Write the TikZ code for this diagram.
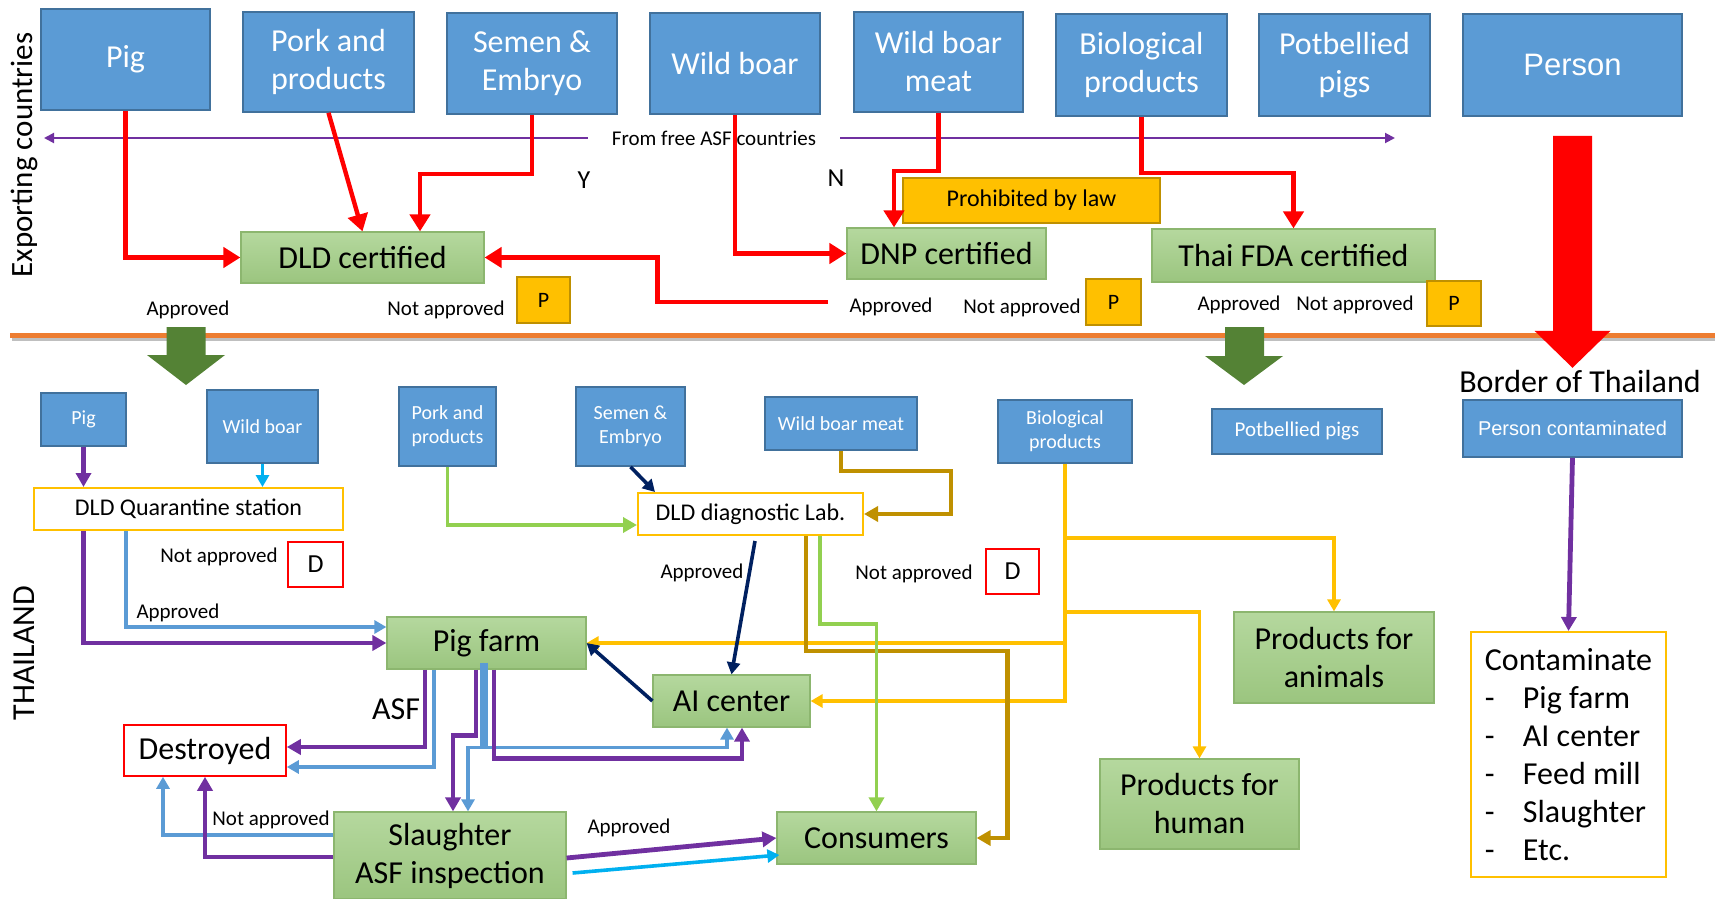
\documentclass[tikz,border=0pt]{standalone}
\usepackage{fontspec}
\setmainfont{Carlito}
\newfontfamily\arialfont{Liberation Sans}
\usepackage{tikz}
\usetikzlibrary{positioning}
\usetikzlibrary{calc,arrows.meta}
\usepackage{color}

\definecolor{boxblue}{HTML}{5B9BD5}
\definecolor{boxblueline}{HTML}{41719C}
\definecolor{greentop}{HTML}{B5D89E}
\definecolor{greenbot}{HTML}{9BC57F}
\definecolor{greenline}{HTML}{8CB66F}
\definecolor{amber}{HTML}{FFC000}
\definecolor{amberline}{HTML}{BF9000}
\definecolor{asfred}{HTML}{FF0000}
\definecolor{lilac}{HTML}{7030A0}
\definecolor{skyblue}{HTML}{5B9BD5}
\definecolor{cyanline}{HTML}{00B0F0}
\definecolor{navyline}{HTML}{002060}
\definecolor{goldline}{HTML}{BF9000}
\definecolor{limeline}{HTML}{92D050}
\definecolor{borderline}{HTML}{ED7D31}
\definecolor{darkgreen}{HTML}{548235}

\begin{document}
\begin{tikzpicture}[x=0.5pt, y=-0.5pt,
bignode/.style={rectangle, draw=boxblueline, fill=boxblue, line width=0.8pt, text=white, inner sep=0pt, align=center, font=\fontsize{16}{19}\selectfont},
smallnode/.style={rectangle, draw=boxblueline, fill=boxblue, line width=0.8pt, text=white, inner sep=0pt, align=center, font=\fontsize{10}{12}\selectfont},
greennode/.style={rectangle, draw=greenline, top color=greentop, bottom color=greenbot, line width=0.6pt, inner sep=0pt, align=center, font=\fontsize{16}{19}\selectfont},
ambernode/.style={rectangle, draw=amberline, fill=amber, line width=0.6pt, inner sep=0pt, font=\fontsize{11}{13}\selectfont},
amberbox/.style={rectangle, draw=amber, fill=white, line width=1pt, inner sep=0pt, font=\fontsize{12}{14}\selectfont},
redbox/.style={rectangle, draw=asfred, fill=white, line width=0.8pt, inner sep=0pt, font=\fontsize{13}{15}\selectfont},
labeltext/.style={inner sep=0pt, font=\fontsize{10.5}{12}\selectfont},
bigtext/.style={inner sep=0pt, font=\fontsize{16}{19}\selectfont},
redarrow/.style={draw=asfred, line width=2.2pt, -{Triangle[length=8.5pt,width=10pt]}},
thinarrow/.style={draw=lilac, line width=1pt, -{Triangle[length=5pt,width=5pt]}},
purplearrow/.style={draw=lilac, line width=2.4pt, -{Triangle[length=7pt,width=7.5pt]}},
bluearrow/.style={draw=skyblue, line width=1.8pt, -{Triangle[length=6pt,width=6.5pt]}},
cyanarrow/.style={draw=cyanline, line width=1.8pt, -{Triangle[length=6pt,width=6.5pt]}},
navyarrow/.style={draw=navyline, line width=1.8pt, -{Triangle[length=6pt,width=6.5pt]}},
goldarrow/.style={draw=goldline, line width=2.2pt, -{Triangle[length=7pt,width=7.5pt]}},
limearrow/.style={draw=limeline, line width=1.8pt, -{Triangle[length=7pt,width=7.5pt]}},
yellowarrow/.style={draw=amber, line width=1.8pt, -{Triangle[length=6pt,width=6.5pt]}},
]
\useasboundingbox (0,0) rectangle (1715,899);

%Border line
\draw[black!25, line width=1.5pt] (12,339.5) -- (1715,339.5);
\draw[borderline, line width=2.5pt] (10,335.5) -- (1715,335.5);

%Nodes exporting countries
\node[bignode, minimum width=84.5pt, minimum height=50.5pt] (tpig)    at (125.5,59.5) {Pig};
\node[bignode, minimum width=85.5pt, minimum height=50pt]   (tpork)   at (328.5,62)   {Pork and\\products};
\node[bignode, minimum width=85pt,   minimum height=50.5pt] (tsemen)  at (532,63.5)   {Semen \&\\Embryo};
\node[bignode, minimum width=85pt,   minimum height=50.5pt] (twild)   at (735,63.5)   {Wild boar};
\node[bignode, minimum width=84.5pt, minimum height=50pt]   (tmeat)   at (938.5,62)   {Wild boar\\meat};
\node[bignode, minimum width=85.5pt, minimum height=51pt]   (tbio)    at (1141.5,65)  {Biological\\products};
\node[bignode, minimum width=85.5pt, minimum height=51pt]   (tpot)    at (1344.5,65)  {Potbellied\\pigs};
\node[bignode, minimum width=109.5pt, minimum height=51pt, font=\arialfont\fontsize{15.5}{18}\selectfont] (tperson) at (1572.5,65) {Person};

\node[greennode, minimum width=121.5pt, minimum height=25.5pt] (dldc) at (362.5,257.5) {DLD certified};
\node[greennode, minimum width=99.5pt,  minimum height=25.5pt] (dnpc) at (946.5,253.5) {DNP certified};
\node[greennode, minimum width=141.5pt, minimum height=26.5pt] (fdac) at (1293.5,255.5) {Thai FDA certified};
\node[ambernode, minimum width=128.5pt, minimum height=22.5pt, font=\fontsize{12}{14}\selectfont] (prohib) at (1031.5,200.5) {Prohibited by law};
\node[ambernode, minimum width=26.5pt, minimum height=23pt]   (pa) at (543.5,300)  {P};
\node[ambernode, minimum width=27.5pt, minimum height=23pt]   (pb) at (1113.5,302) {P};
\node[ambernode, minimum width=27pt,   minimum height=22.5pt] (pc) at (1454,303.5) {P};

%Text exporting countries
\node[labeltext] (apra) at (188,310)  {Approved};
\node[labeltext] (napa) at (446,310)  {Not approved};
\node[labeltext] (aprb) at (891,307)  {Approved};
\node[labeltext] (napb) at (1022,308) {Not approved};
\node[labeltext] (aprc) at (1239,305) {Approved};
\node[labeltext] (napc) at (1355,305) {Not approved};
\node[labeltext, inner xsep=12pt] (freeasf) at (714,138) {From free ASF countries};
\node[font=\fontsize{13}{15}\selectfont] (yes) at (584,180) {Y};
\node[font=\fontsize{13}{15}\selectfont] (no)  at (836,178) {N};
\node[rotate=90, font=\fontsize{15.5}{18}\selectfont] (exporting) at (24,155) {Exporting countries};
\node[rotate=90, font=\fontsize{16}{18}\selectfont]   (thailand)  at (24,653) {THAILAND};
\node[bigtext] (border) at (1580,382) {Border of Thailand};
\coordinate (asfleft)  at (44,138);
\coordinate (asfright) at (1395,138);

%Lines exporting countries
\draw[thinarrow] (freeasf.west) -- (asfleft);
\draw[thinarrow] (freeasf.east) -- (asfright);
\draw[redarrow] (tpig.south) |- (dldc.west);
\draw[redarrow] (tpork.south) -- (dldc.north);
\draw[redarrow] (tsemen.south) -- ++(0,59) -| ($(dldc.north)+(57.5,0)$);
\draw[redarrow] (twild.south) |- (dnpc.west);
\draw[redarrow] (tmeat.south) -- ++(0,58) -| ($(dnpc.north)+(-52.5,0)$);
\draw[redarrow] (tbio.south) -- ++(0,56) -| (fdac.north);
\draw[redarrow] ($(aprb.west)+(-21,-5)$) -| ($(dldc.east)+(173,0)$) -- (dldc.east);

%Block arrows
\fill[asfred] ($(tperson.south)+(-19.5,19)$) -- ++(39,0) -- ++(0,195) -- ++(18.5,0)
  -- ($(tperson.south)+(0,251)$) -- ($(tperson.south)+(-38,214)$) -- ++(18.5,0) -- cycle;
\fill[darkgreen] (166.5,327) -- (205.5,327) -- (205.5,355) -- (225,355) -- (186,385) -- (147,355) -- (166.5,355) -- cycle;
\fill[darkgreen] (1225,327) -- (1264,327) -- (1264,356) -- (1283,356) -- (1244,385) -- (1205,356) -- (1225,356) -- cycle;

%Nodes Thailand
\node[smallnode, minimum width=42.5pt, minimum height=26.5pt] (bpig)   at (83.5,419.5)  {Pig};
\node[smallnode, minimum width=55.5pt, minimum height=36.5pt] (bwild)  at (262.5,426.5) {Wild boar};
\node[smallnode, minimum width=48.5pt, minimum height=39.5pt] (bpork)  at (447.5,426.5) {Pork and\\products};
\node[smallnode, minimum width=54.5pt, minimum height=39.5pt] (bsemen) at (630.5,426.5) {Semen \&\\Embryo};
\node[smallnode, minimum width=76pt,   minimum height=26.5pt] (bmeat)  at (841,423.5)   {Wild boar meat};
\node[smallnode, minimum width=67pt,   minimum height=31.5pt] (bbio)   at (1065,431.5)  {Biological\\products};
\node[smallnode, minimum width=85pt,   minimum height=22.5pt, font=\fontsize{10.5}{12}\selectfont] (bpot) at (1297,431.5) {Potbellied pigs};
\node[smallnode, minimum width=109.5pt, minimum height=28.5pt, font=\arialfont\fontsize{10}{12}\selectfont] (bperson) at (1572.5,428.5) {Person contaminated};

\node[amberbox, minimum width=154.5pt, minimum height=21pt] (quar) at (188.5,509) {DLD Quarantine station};
\node[amberbox, minimum width=112.5pt, minimum height=21pt] (diag) at (750.5,514) {DLD diagnostic Lab.};
\node[redbox, minimum width=27.5pt, minimum height=22.5pt] (da) at (315.5,564.5) {D};
\node[redbox, minimum width=26.5pt, minimum height=22.5pt] (db) at (1012.5,571.5) {D};
\node[redbox, minimum width=81pt, minimum height=25.5pt, font=\fontsize{16}{19}\selectfont] (destroyed) at (205,750.5) {Destroyed};
\node[amberbox, minimum width=97.5pt, minimum height=122.5pt, align=left, font=\fontsize{16}{19}\selectfont] (contam) at (1568.5,754.5)
  {Contaminate\\
   \makebox[19pt][l]{-}Pig farm\\
   \makebox[19pt][l]{-}AI center\\
   \makebox[19pt][l]{-}Feed mill\\
   \makebox[19pt][l]{-}Slaughter\\
   \makebox[19pt][l]{-}Etc.};

\node[greennode, minimum width=99.5pt, minimum height=26pt]   (farm)    at (486.5,643)  {Pig farm};
\node[greennode, minimum width=78.5pt, minimum height=26pt]   (aic)     at (731.5,701)  {AI center};
\node[greennode, minimum width=116pt,  minimum height=43.5pt] (slaught) at (450,855.5)  {Slaughter\\ASF inspection};
\node[greennode, minimum width=99.5pt, minimum height=26pt]   (cons)    at (876.5,838)  {Consumers};
\node[greennode, minimum width=100pt,  minimum height=45.5pt] (panim)   at (1334,657.5) {Products for\\animals};
\node[greennode, minimum width=99.5pt, minimum height=45pt]   (phum)    at (1199.5,804) {Products for\\human};

%Text Thailand
\node[labeltext] (napd) at (219,557) {Not approved};
\node[labeltext] (apre) at (178,613) {Approved};
\node[bigtext]   (asf)  at (396,709) {ASF};
\node[labeltext] (nape) at (271,820) {Not approved};
\node[labeltext] (aprf) at (702,573) {Approved};
\node[labeltext] (napf) at (914,574) {Not approved};
\node[labeltext] (aprg) at (629,828) {Approved};

%Lines Thailand
\draw[purplearrow] (bpig.south) -- (bpig.south |- quar.north);
\draw[cyanarrow] (bwild.south) -- (bwild.south |- quar.north);
\draw[purplearrow] (quar.south -| bpig.south) |- (farm.west);
\draw[bluearrow] ($(quar.south)+(-62.5,0)$) |- ($(farm.west)+(0,-16)$);
\draw[limearrow] (bpork.south) |- ($(diag.west)+(0,11)$);
\draw[navyarrow] (bsemen.south) -- ($(diag.north west)+(18,0)$);
\draw[goldarrow] (bmeat.south) -- ++(0,20) -| ($(diag.east)+(87,0)$) -- (diag.east);

\draw[yellowarrow] (bbio.south) -- ++(0,74) -| (panim.north);
\draw[yellowarrow] (bbio.south) -- ++(0,148) -| (phum.north);
\draw[yellowarrow] (bbio.south) |- (farm.east);
\draw[yellowarrow] (bbio.south) |- (aic.east);

\draw[goldarrow] ($(diag.south)+(55.5,0)$) -- ++(0,115) -| ($(cons.east)+(31,0)$) -- (cons.east);
\draw[limearrow] ($(diag.south)+(69.5,0)$) -- ++(0,88) -| (cons.north);
\draw[navyarrow] ($(diag.south)+(4.5,5)$) -- (aic.north);
\draw[navyarrow] (aic.west) -- (farm.east);

\draw[purplearrow] ($(farm.south)+(-61.5,0)$) |- ($(destroyed.east)+(0,-3.5)$);
\draw[bluearrow] ($(farm.south)+(-52.5,0)$) |- ($(destroyed.east)+(0,16.5)$);
\draw[purplearrow] ($(farm.south)+(-10.5,0)$) -- ++(0,66) -| ($(slaught.north)+(3,0)$);
\draw[bluearrow] ($(farm.south)+(-4.5,-7)$) -- ++(0,85) -| ($(slaught.north)+(18,0)$);
\draw[bluearrow] ($(farm.south)+(-0.5,-7)$) -- ++(0,85) -| ($(aic.south)+(-4.5,0)$);
\draw[purplearrow] ($(farm.south)+(7.5,0)$) -- ++(0,89) -| ($(aic.south)+(10.5,0)$);

\draw[bluearrow] ($(slaught.west)+(0,-20.5)$) -| ($(destroyed.south)+(-42,0)$);
\draw[purplearrow] ($(slaught.west)+(0,1.5)$) -| (destroyed.south);
\draw[purplearrow] ($(slaught.east)+(0,2.5)$) -- (cons.west);
\draw[cyanarrow] ($(slaught.east)+(6,17.5)$) -- ($(cons.west)+(3,17)$);
\draw[purplearrow] (bperson.south) -- (contam.north);
\end{tikzpicture}
\end{document}
